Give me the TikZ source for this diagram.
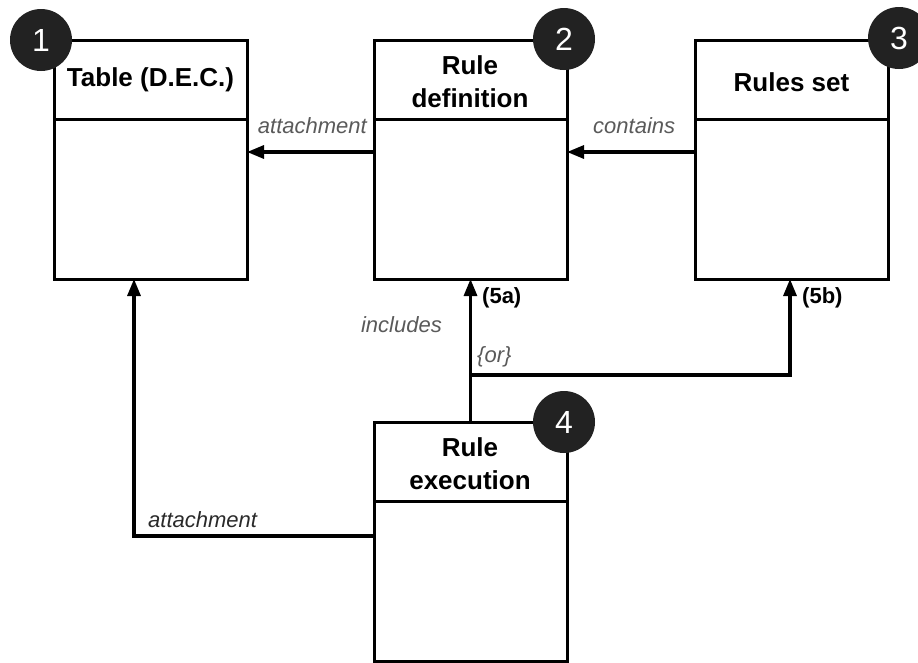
\documentclass[tikz,border=0pt]{standalone}
\usepackage{fontspec}
\setmainfont{Liberation Sans}
\usetikzlibrary{arrows.meta}
\definecolor{badgefill}{HTML}{222222}
\definecolor{labgray}{HTML}{5A5A5A}
\definecolor{labdark}{HTML}{2A2A2A}
\begin{document}
\begin{tikzpicture}[x=1pt,y=-1pt,
  box/.style={draw=black, line width=3pt, rectangle, inner sep=0pt, outer sep=0pt,
    minimum width=193pt, minimum height=239pt, anchor=north west},
  divider/.style={draw=black, line width=3pt},
  title/.style={font=\fontsize{26}{33}\selectfont\bfseries, align=center, inner sep=0pt},
  conn/.style={draw=black, line width=3.2pt, -{Triangle[length=17pt,width=13pt]}},
  lab/.style={font=\fontsize{22}{26}\selectfont\itshape, text=labgray, inner sep=0pt},
  labd/.style={font=\fontsize{22}{26}\selectfont\itshape, text=labdark, inner sep=0pt},
  tag/.style={font=\fontsize{22}{26}\selectfont\bfseries, text=black, inner sep=0pt},
  badge/.style={circle, fill=badgefill, minimum size=62pt, inner sep=0pt,
    text=white, font=\fontsize{32}{36}\selectfont}
]
\useasboundingbox (0,0) rectangle (918,662);
\clip (0,0) rectangle (918,662);
\fill[white] (0,0) rectangle (918,662);

% boxes
\node[box] (b1) at (54,40) {};
\node[box] (b2) at (374,40) {};
\node[box] (b3) at (695,40) {};
\node[box] (b4) at (374,422) {};

% header dividers
\foreach \b in {b1,b2,b3,b4}{
  \draw[divider] ([yshift=-79pt]\b.north west) -- ([yshift=-79pt]\b.north east);
}

% titles
\node[title] (t1) at (150.5,80) {Table (D.E.C.)};
\node[title] (t2) at (470,82) {Rule\\definition};
\node[title] (t3) at (791.5,82) {Rules set};
\node[title] (t4) at (470,464) {Rule\\execution};

% connectors
\draw[conn] ([yshift=-112pt]b2.north west) -- ([yshift=-112pt]b1.north east);
\draw[conn] ([yshift=-112pt]b3.north west) -- ([yshift=-112pt]b2.north east);
\draw[conn] (b4.north) -- (b2.south);
\coordinate (j) at (470,375);
\draw[conn] (j) -| ([xshift=-1.5pt]b3.south);
\draw[conn] ([yshift=-114pt]b4.north west) -| ([xshift=-16.5pt]b1.south);

% labels
\node[lab, anchor=base east] (l1) at (367,133) {attachment};
\node[lab, anchor=base west] (l2) at (593,133) {contains};
\node[lab, anchor=base east] (l3) at (442,332) {includes};
\node[lab, anchor=base west] (l4) at (477,362) {\{or\}};
\node[tag, anchor=base west] (l5) at (482,303) {(5a)};
\node[tag, anchor=base west] (l6) at (802,303) {(5b)};
\node[labd, anchor=base west] (l7) at (148,527) {attachment};

% badges
\node[badge] (n1) at (41,40) {1};
\node[badge] (n2) at (564,39) {2};
\node[badge] (n3) at (899,38) {3};
\node[badge] (n4) at (564,422) {4};
\end{tikzpicture}
\end{document}
